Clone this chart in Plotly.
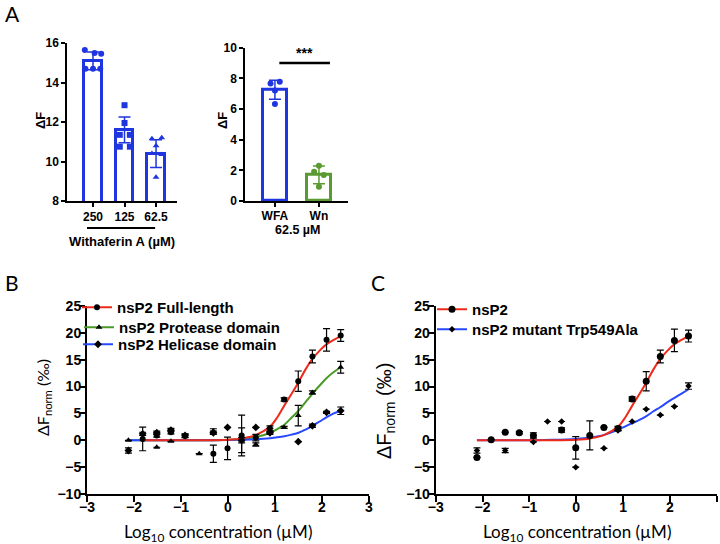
import numpy as np
import plotly.graph_objects as go

W, H = 720, 544

# ---------------- Panel A (left) ----------------
a1_labels = ["250", "125", "62.5"]
a1_means = [15.1, 11.6, 10.4]
a1_sd = [0.45, 0.65, 0.7]
a1_points = [
    [15.65, 15.5, 15.45, 14.7, 14.7, 14.7],
    [12.85, 11.95, 11.35, 11.35, 10.75, 10.75],
    [11.15, 11.2, 10.8, 10.4, 10.35, 9.2],
]
a1_jitter = [
    [-0.26, 0.05, 0.26, -0.24, 0.0, 0.23],
    [0.0, 0.0, -0.15, 0.17, -0.15, 0.17],
    [-0.13, 0.18, 0.0, -0.13, 0.18, 0.0],
]
a1_symbols = ["circle", "square", "triangle-up"]

# ---------------- Panel A (right) ----------------
a2_labels = ["WFA", "Wn"]
a2_means = [7.25, 1.71]
a2_sd = [0.62, 0.58]
a2_points = [[7.67, 7.78, 7.2, 6.33], [2.3, 1.91, 1.7, 0.93]]
a2_jitter = [[-0.1, 0.11, 0.0, 0.0], [0.0, -0.11, 0.11, 0.0]]
a2_sig_y = 9.0

# ---------------- Panels B and C ----------------
conc_um = [250, 125, 62.5, 31.25, 15.63, 7.81, 3.91, 1.95, 0.977, 0.488,
           0.244, 0.122, 0.061, 0.0305, 0.0153, 0.0076]
logc = [float(np.log10(c)) for c in conc_um]

b_full = [19.5, 18.7, 15.6, 11.0, 7.6, 2.2, 0.5, 0.9, -1.5, -2.5, None, 0.8, 1.5, 0.9, 0.25, None]
b_full_sd = [1.1, 2.1, 1.2, 1.9, 0.3, 0.5, 0.6, 3.8, 2.1, 1.6, 0, 0.3, 0.3, 0.3, 2.2, 0]
b_prot = [13.6, None, 8.9, 4.6, 2.4, 1.8, -0.8, 0.0, None, 1.75, -2.5, None, -0.2, -1.3, None, 0.0]
b_prot_sd = [1.1, 0, 0.3, 1.9, 0.2, 0.4, 0.3, 2.3, 0, 0.4, 0, 0, 0, 0, 0, 0]
b_heli = [5.5, 5.2, 2.7, -0.25, None, 1.4, 2.4, 0.0, 2.4, 1.4, None, 0.9, 1.9, 1.4, 1.2, -1.9]
b_heli_sd = [0.7, 0.2, 0.3, 0, 0, 0.3, 0, 0.5, 0, 0.3, 0, 0.3, 0.3, 0.3, 0.3, 0.5]

c_wt = [19.4, 18.6, 15.6, 11.0, 7.7, 2.2, 2.4, 0.9, -1.4, 1.9, None, 0.9, 1.4, 1.5, 0.1, -3.2]
c_wt_sd = [1.1, 2.1, 1.2, 1.8, 0.4, 0.4, 0, 2.7, 2.1, 0.4, 0, 0.5, 0.2, 0, 0, 0]
c_mut = [10.1, 6.3, 4.7, 5.8, 3.5, 1.8, -1.5, None, -5.0, 3.5, 3.5, -0.3, None, -1.9, None, -1.9]
c_mut_sd = [0.6, 0, 0, 0, 0, 0, 0, 0, 0, 0, 0, 0, 0, 0.4, 0, 0.5]

# fitted curves
fit_x = [-2.12, -1.85, -1.5, -1.0, -0.5, 0.0, 0.3, 0.6, 0.9, 1.05, 1.2, 1.35, 1.5, 1.65, 1.8, 1.95, 2.1, 2.25, 2.4]
fit_full = [0, 0, 0, 0, 0, 0.1, 0.35, 1.0, 2.6, 4.3, 6.5, 8.6, 10.8, 13.2, 15.2, 16.7, 17.9, 18.7, 19.4]
fit_prot = [0, 0, 0, 0, 0, 0.1, 0.25, 0.6, 1.4, 2.1, 2.9, 4.2, 5.5, 7.1, 8.7, 10.2, 11.6, 12.7, 13.6]
fit_heli = [0, 0, 0, 0, 0, 0.05, 0.1, 0.2, 0.4, 0.55, 0.75, 1.05, 1.4, 2.0, 2.7, 3.5, 4.3, 5.0, 5.5]
fit_mut = [0, 0, 0, 0.02, 0.08, 0.25, 0.5, 1.0, 2.0, 2.6, 3.2, 3.8, 4.5, 5.4, 6.2, 7.1, 7.9, 8.7, 9.5]

BLUE = "#1f35e0"
GREEN = "#5a9a32"
RED = "#ee2a1a"
GREEN_L = "#4a9a28"
BLUE_L = "#2648ff"

ARIAL = "Liberation Sans, Arial, sans-serif"
CAL = "Lato, Carlito, sans-serif"


def px(x):
    return x / W


def py(y):
    return 1 - y / H


fig = go.Figure()

# ----- A left -----
fig.add_trace(go.Bar(x=list(range(3)), y=a1_means, width=0.55,
                     marker=dict(color="white", line=dict(color=BLUE, width=3)),
                     xaxis="x", yaxis="y", showlegend=False))
for i in range(3):
    fig.add_trace(go.Scatter(x=[i + j for j in a1_jitter[i]], y=a1_points[i], mode="markers",
                             marker=dict(color=BLUE, size=6, symbol=a1_symbols[i]),
                             xaxis="x", yaxis="y", showlegend=False))
fig.add_trace(go.Scatter(x=list(range(3)), y=a1_means, mode="markers",
                         marker=dict(size=0.1, color=BLUE),
                         error_y=dict(type="data", array=a1_sd, color=BLUE, thickness=1.5, width=6),
                         xaxis="x", yaxis="y", showlegend=False))

# ----- A right -----
a2_colors = [BLUE, GREEN]
fig.add_trace(go.Bar(x=[0, 1], y=a2_means, width=0.55,
                     marker=dict(color="white", line=dict(color=a2_colors, width=3)),
                     xaxis="x2", yaxis="y2", showlegend=False))
for i in range(2):
    fig.add_trace(go.Scatter(x=[i + j for j in a2_jitter[i]], y=a2_points[i], mode="markers",
                             marker=dict(color=a2_colors[i], size=6, symbol="circle"),
                             xaxis="x2", yaxis="y2", showlegend=False))
    fig.add_trace(go.Scatter(x=[i], y=[a2_means[i]], mode="markers",
                             marker=dict(size=0.1, color=a2_colors[i]),
                             error_y=dict(type="data", array=[a2_sd[i]], color=a2_colors[i], thickness=1.5, width=6),
                             xaxis="x2", yaxis="y2", showlegend=False))

# ----- B -----
fig.add_trace(go.Scatter(x=fit_x, y=fit_prot, mode="lines", line=dict(color=GREEN_L, width=2, shape="spline"),
                         xaxis="x3", yaxis="y3", showlegend=False))
fig.add_trace(go.Scatter(x=fit_x, y=fit_heli, mode="lines", line=dict(color=BLUE_L, width=2, shape="spline"),
                         xaxis="x3", yaxis="y3", showlegend=False))
fig.add_trace(go.Scatter(x=fit_x[1:], y=fit_full[1:], mode="lines", line=dict(color=RED, width=2, shape="spline"),
                         xaxis="x3", yaxis="y3", showlegend=False))
for vals, sds, sym in [(b_full, b_full_sd, "circle"), (b_prot, b_prot_sd, "triangle-up"), (b_heli, b_heli_sd, "diamond")]:
    fig.add_trace(go.Scatter(x=logc, y=vals, mode="markers",
                             marker=dict(color="black", size=6, symbol=sym),
                             error_y=dict(type="data", array=sds, color="black", thickness=1.2, width=3.5),
                             xaxis="x3", yaxis="y3", showlegend=False))

# ----- C -----
fig.add_trace(go.Scatter(x=fit_x, y=fit_mut, mode="lines", line=dict(color=BLUE_L, width=2, shape="spline"),
                         xaxis="x4", yaxis="y4", showlegend=False))
fig.add_trace(go.Scatter(x=fit_x, y=fit_full, mode="lines", line=dict(color=RED, width=2, shape="spline"),
                         xaxis="x4", yaxis="y4", showlegend=False))
fig.add_trace(go.Scatter(x=logc, y=c_wt, mode="markers",
                         marker=dict(color="black", size=7, symbol="circle"),
                         error_y=dict(type="data", array=c_wt_sd, color="black", thickness=1.2, width=3.5),
                         xaxis="x4", yaxis="y4", showlegend=False))
fig.add_trace(go.Scatter(x=logc, y=c_mut, mode="markers",
                         marker=dict(color="black", size=5, symbol="diamond"),
                         error_y=dict(type="data", array=c_mut_sd, color="black", thickness=1.2, width=3.5),
                         xaxis="x4", yaxis="y4", showlegend=False))

# ----- legends: one plotly legend per entry, so each row sits where the reference puts it -----
legend_items = [
    # name, line colour, symbol, size, axis, legend x(px), legend top(px)
    ("nsP2 Full-length", RED, "circle", 6, "3", 77, 291),
    ("nsP2 Protease domain", GREEN_L, "triangle-up", 6, "3", 79, 311),
    ("nsP2 Helicase domain", BLUE_L, "diamond", 6, "3", 78, 328),
    ("nsP2", RED, "circle", 7, "4", 432, 293),
    ("nsP2 mutant Trp549Ala", BLUE_L, "diamond", 5, "4", 432, 313),
]
legend_layout = {}
for k, (name, col, sym, sz, ax, lx, ly) in enumerate(legend_items):
    lname = "legend" if k == 0 else f"legend{k + 1}"
    fig.add_trace(go.Scatter(x=[None], y=[None], mode="lines+markers", name=name,
                             line=dict(color=col, width=2), marker=dict(color="black", size=sz, symbol=sym),
                             xaxis="x" + ax, yaxis="y" + ax, legend=lname, showlegend=True))
    legend_layout[lname] = dict(x=px(lx), y=py(ly), xanchor="left", yanchor="top", bgcolor="rgba(0,0,0,0)",
                                font=dict(family=ARIAL, size=15, color="black", weight="bold"),
                                itemwidth=30)

axA = dict(showline=True, linecolor="black", linewidth=1.5, ticks="outside", tickwidth=1.5, ticklen=4,
           tickcolor="black", showgrid=False, zeroline=False, automargin=False,
           tickfont=dict(family=ARIAL, size=12, color="black", weight="bold"))
axB = dict(showline=True, linecolor="black", linewidth=2, ticks="outside", tickwidth=2, ticklen=6,
           tickcolor="black", showgrid=False, zeroline=False, automargin=False,
           tickfont=dict(family=ARIAL, size=14, color="black", weight="bold"))

fig.update_layout(
    width=W, height=H, margin=dict(l=0, r=0, t=0, b=0, autoexpand=False),
    paper_bgcolor="white", plot_bgcolor="white",
    xaxis=dict(axA, domain=[px(67), px(177)], range=[-0.825, 2.665], tickvals=[0, 1, 2], ticktext=a1_labels,
               anchor="y"),
    yaxis=dict(axA, domain=[py(201), py(43)], range=[8, 16], tickvals=[8, 10, 12, 14, 16], anchor="x"),
    xaxis2=dict(axA, domain=[px(245), px(348)], range=[-0.68, 1.66], tickvals=[0, 1], ticktext=a2_labels,
                anchor="y2", ticklabelstandoff=-1),
    yaxis2=dict(axA, domain=[py(201), py(47.7)], range=[0, 10], tickvals=[0, 2, 4, 6, 8, 10], anchor="x2"),
    xaxis3=dict(axB, domain=[px(87), px(369)], range=[-3, 3], tickvals=[-3, -2, -1, 0, 1, 2, 3], anchor="y3",
                ticklabelstandoff=-7),
    yaxis3=dict(axB, domain=[py(494), py(306)], range=[-10, 25], tickvals=list(range(-10, 30, 5)), anchor="x3",
                ticklabelstandoff=-5),
    xaxis4=dict(axB, domain=[px(435.7), px(716.7)], range=[-3, 3], tickvals=[-3, -2, -1, 0, 1, 2, 3], anchor="y4",
                ticklabelstandoff=-7),
    yaxis4=dict(axB, domain=[py(494), py(306)], range=[-10, 25], tickvals=list(range(-10, 30, 5)), anchor="x4",
                ticklabelstandoff=-5),
    bargap=0,
    **legend_layout,
)

ann = []
ann.append(dict(text="A", x=px(12), y=py(13), font=dict(family=CAL, size=21, color="black")))
ann.append(dict(text="B", x=px(12), y=py(282), font=dict(family=CAL, size=21, color="black")))
ann.append(dict(text="C", x=px(378), y=py(282), font=dict(family=CAL, size=21, color="black")))
ann.append(dict(text="ΔF", x=px(40), y=py(121), textangle=-90,
                font=dict(family=ARIAL, size=13, color="black", weight="bold")))
ann.append(dict(text="ΔF", x=px(222), y=py(121), textangle=-90,
                font=dict(family=ARIAL, size=13, color="black", weight="bold")))
ann.append(dict(text="Withaferin A (µM)", x=px(122), y=py(241),
                font=dict(family=ARIAL, size=13, color="black", weight="bold")))
ann.append(dict(text="62.5 µM", x=px(297), y=py(230),
                font=dict(family=ARIAL, size=12.5, color="black", weight="bold")))
ann.append(dict(text="***", x=0.67, xref="x2", y=py(53), font=dict(family=ARIAL, size=14, color="black", weight="bold"),
                yref="paper"))
ann.append(dict(text="ΔF<sub>norm</sub> (‰)", x=px(43), y=py(398), textangle=-90,
                font=dict(family=CAL, size=16, color="black")))
ann.append(dict(text="ΔF<sub>norm</sub> (‰)", x=px(385), y=py(411), textangle=-90,
                font=dict(family=ARIAL, size=20, color="black")))
ann.append(dict(text="Log<sub>10</sub> concentration (µM)", x=px(218), y=py(533),
                font=dict(family=CAL, size=17, color="black")))
ann.append(dict(text="Log<sub>10</sub> concentration (µM)", x=px(577), y=py(533),
                font=dict(family=CAL, size=17, color="black")))
for a in ann:
    a.setdefault("xref", "paper")
    a.setdefault("yref", "paper")
    a.update(showarrow=False, xanchor="center", yanchor="middle")
fig.update_layout(annotations=ann)

fig.add_shape(type="line", xref="x", yref="paper", x0=-0.19, x1=1.97, y0=py(228), y1=py(228),
              line=dict(color="black", width=2))
fig.add_shape(type="line", xref="x2", yref="y2", x0=0.1, x1=1.25, y0=a2_sig_y, y1=a2_sig_y,
              line=dict(color="black", width=2.5))

fig.write_html("out.html", config={"displayModeBar": False},
               post_script="document.body.style.margin='0';document.body.style.overflow='hidden';")
